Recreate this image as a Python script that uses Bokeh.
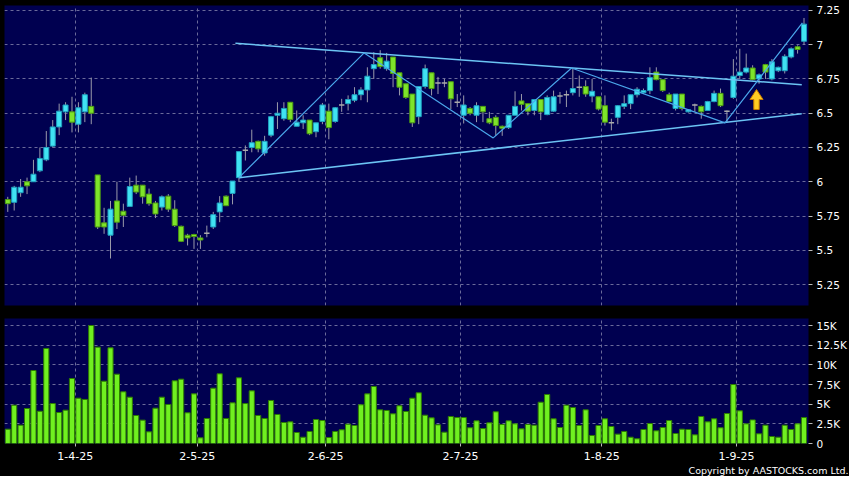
from bokeh.plotting import figure
from bokeh.models import Range1d, FixedTicker, CustomJSTickFormatter, Title
from bokeh.layouts import column
from bokeh.embed import file_html
from bokeh.resources import INLINE

# ---------------- data ----------------
opens = [5.87, 5.85, 5.92, 6.00, 6.00, 6.08, 6.16, 6.26, 6.40, 6.51,
         6.51, 6.42, 6.51, 6.55, 6.05, 5.70, 5.61, 5.86, 5.785, 5.82,
         5.975, 5.975, 5.91, 5.845, 5.815, 5.895, 5.80, 5.675, 5.61, 5.615,
         5.59, 5.625, 5.67, 5.78, 5.895, 5.915, 6.03, 6.23, 6.25, 6.295,
         6.21, 6.34, 6.485, 6.46, 6.58, 6.405, 6.43, 6.45, 6.365, 6.44,
         6.515, 6.44, 6.56, 6.57, 6.595, 6.635, 6.67, 6.825, 6.905, 6.825,
         6.91, 6.795, 6.715, 6.64, 6.475, 6.695, 6.795, 6.72, 6.72, 6.73,
         6.58, 6.485, 6.535, 6.485, 6.55, 6.46, 6.47, 6.405, 6.395, 6.485,
         6.59, 6.57, 6.52, 6.60, 6.49, 6.515, 6.625, 6.635, 6.65, 6.69,
         6.695, 6.625, 6.62, 6.555, 6.43, 6.47, 6.55, 6.57, 6.635, 6.65,
         6.665, 6.80, 6.745, 6.635, 6.535, 6.64, 6.51, 6.56, 6.55, 6.52,
         6.585, 6.645, 6.515, 6.615, 6.775, 6.80, 6.83, 6.75, 6.855, 6.75,
         6.81, 6.81, 6.91, 6.985, 7.025]
highs = [5.89, 5.97, 6.02, 6.03, 6.16, 6.25, 6.37, 6.45, 6.57, 6.58,
         6.62, 6.58, 6.65, 6.76, 6.05, 5.81, 5.86, 6.00, 5.84, 6.03,
         6.045, 5.975, 5.95, 5.86, 5.90, 5.91, 5.865, 5.68, 5.62, 5.62,
         5.61, 5.68, 5.78, 5.895, 5.90, 6.005, 6.22, 6.265, 6.38, 6.30,
         6.335, 6.48, 6.58, 6.58, 6.58, 6.52, 6.485, 6.45, 6.43, 6.575,
         6.57, 6.545, 6.605, 6.63, 6.69, 6.69, 6.835, 6.945, 6.96, 6.94,
         6.91, 6.795, 6.715, 6.64, 6.695, 6.855, 6.795, 6.765, 6.75, 6.73,
         6.64, 6.63, 6.545, 6.58, 6.55, 6.51, 6.485, 6.41, 6.485, 6.66,
         6.64, 6.57, 6.60, 6.60, 6.63, 6.665, 6.655, 6.665, 6.825, 6.775,
         6.74, 6.75, 6.62, 6.63, 6.46, 6.56, 6.63, 6.635, 6.69, 6.68,
         6.835, 6.835, 6.745, 6.65, 6.64, 6.64, 6.53, 6.57, 6.556, 6.59,
         6.665, 6.68, 6.52, 6.895, 6.97, 6.935, 6.85, 6.79, 6.86, 6.895,
         6.84, 6.93, 6.98, 6.995, 7.195]
lows = [5.78, 5.79, 5.89, 5.91, 6.00, 6.07, 6.15, 6.25, 6.34, 6.45,
        6.36, 6.36, 6.435, 6.42, 5.655, 5.62, 5.44, 5.655, 5.67, 5.82,
        5.91, 5.84, 5.825, 5.735, 5.79, 5.78, 5.67, 5.56, 5.535, 5.51,
        5.51, 5.595, 5.655, 5.705, 5.825, 5.835, 6.00, 6.155, 6.215, 6.215,
        6.19, 6.325, 6.385, 6.445, 6.435, 6.405, 6.385, 6.34, 6.325, 6.42,
        6.31, 6.43, 6.51, 6.52, 6.58, 6.595, 6.58, 6.75, 6.825, 6.81,
        6.69, 6.63, 6.605, 6.40, 6.42, 6.68, 6.63, 6.64, 6.69, 6.53,
        6.545, 6.425, 6.485, 6.435, 6.435, 6.42, 6.335, 6.335, 6.385, 6.485,
        6.52, 6.485, 6.485, 6.45, 6.485, 6.51, 6.57, 6.545, 6.63, 6.62,
        6.62, 6.58, 6.52, 6.41, 6.375, 6.42, 6.53, 6.53, 6.615, 6.64,
        6.64, 6.74, 6.655, 6.58, 6.52, 6.52, 6.505, 6.51, 6.46, 6.52,
        6.58, 6.545, 6.435, 6.605, 6.75, 6.79, 6.74, 6.715, 6.75, 6.74,
        6.80, 6.79, 6.90, 6.935, 7.00]
closes = [5.84, 5.96, 5.96, 5.97, 6.055, 6.17, 6.25, 6.40, 6.515, 6.56,
          6.435, 6.54, 6.635, 6.50, 5.67, 5.67, 5.80, 5.705, 5.755, 5.965,
          5.925, 5.89, 5.84, 5.765, 5.89, 5.80, 5.68, 5.565, 5.59, 5.60,
          5.575, 5.625, 5.76, 5.845, 5.825, 6.005, 6.22, 6.23, 6.285, 6.24,
          6.295, 6.475, 6.50, 6.535, 6.455, 6.435, 6.45, 6.35, 6.43, 6.56,
          6.395, 6.54, 6.56, 6.60, 6.635, 6.67, 6.77, 6.855, 6.84, 6.88,
          6.79, 6.69, 6.615, 6.43, 6.695, 6.825, 6.68, 6.72, 6.72, 6.605,
          6.58, 6.56, 6.50, 6.555, 6.51, 6.43, 6.41, 6.39, 6.485, 6.55,
          6.565, 6.515, 6.60, 6.51, 6.615, 6.62, 6.625, 6.635, 6.68, 6.69,
          6.64, 6.66, 6.53, 6.435, 6.43, 6.555, 6.57, 6.635, 6.675, 6.665,
          6.76, 6.745, 6.665, 6.585, 6.64, 6.535, 6.525, 6.56, 6.51, 6.585,
          6.645, 6.555, 6.515, 6.77, 6.80, 6.83, 6.745, 6.78, 6.80, 6.875,
          6.835, 6.915, 6.97, 6.965, 7.15]
volumes_k = [1.82, 4.87, 2.33, 4.45, 9.28, 4.10, 12.08, 5.08, 3.94, 4.24,
             8.26, 5.76, 5.60, 15.0, 12.25, 7.92, 12.16, 8.81, 6.57, 5.89,
             3.56, 2.97, 1.48, 4.49, 5.89, 4.96, 7.97, 8.18, 3.90, 6.31,
             0.72, 3.18, 7.03, 8.86, 3.18, 5.17, 8.35, 5.08, 6.69, 3.56,
             3.18, 5.47, 3.69, 2.67, 2.75, 1.40, 0.80, 1.53, 3.05, 2.92,
             0.76, 1.53, 1.74, 2.46, 2.29, 4.92, 6.31, 7.25, 4.28, 4.20,
             3.77, 4.79, 4.07, 5.76, 6.44, 3.60, 3.26, 2.37, 1.44, 3.43,
             3.30, 3.30, 2.00, 2.88, 1.90, 2.63, 4.03, 2.42, 2.88, 2.50,
             1.86, 2.42, 2.33, 5.25, 6.23, 3.14, 2.03, 4.87, 4.58, 2.29,
             4.28, 1.02, 2.29, 3.14, 2.16, 1.19, 1.53, 0.80, 0.60, 1.78,
             2.54, 1.61, 2.03, 2.92, 1.27, 1.82, 1.78, 1.10, 3.43, 2.75,
             3.14, 2.00, 3.81, 7.50, 4.15, 2.50, 3.00, 1.23, 2.33, 0.89,
             0.80, 2.33, 1.78, 2.50, 3.30]

date_labels = ["1-4-25", "2-5-25", "2-6-25", "2-7-25", "1-8-25", "1-9-25"]
date_label_index = [10.5, 29.5, 49.5, 70.5, 92.5, 113.5]
price_ticks = [5.25, 5.5, 5.75, 6.0, 6.25, 6.5, 6.75, 7.0, 7.25]
volume_ticks = [0, 2.5, 5, 7.5, 10, 12.5, 15]

# trend lines (index, price)
upper_line_idx = [35.45, 123.65]
upper_line_price = [7.01, 6.708]
lower_line_idx = [36.0, 123.65]
lower_line_price = [6.03, 6.496]
zigzag_idx = [36.0, 55.5, 75.6, 87.8, 111.7, 123.75]
zigzag_price = [6.03, 6.94, 6.32, 6.83, 6.43, 7.16]

# breakout arrow
arrow_idx = 116.6
arrow_tip = 6.673
arrow_base = 6.60
arrow_bottom = 6.527

# ---------------- styling ----------------
NAVY = "#000050"
GRID = "#6a6a9a"
FONT = "DejaVu Sans"
UP_FILL, UP_LINE = "#40e2f2", "#1f9fbf"
DN_FILL, DN_LINE = "#7ee42a", "#4c9a12"
WICK = "#9a9aaa"
DOJI = "#aaaaaa"

n = len(opens)
idx = list(range(n))
x_range = Range1d(-0.51, 124.7)

up = [i for i in idx if closes[i] > opens[i]]
dn = [i for i in idx if closes[i] < opens[i]]
dj = [i for i in idx if closes[i] == opens[i]]

def sub(lst, sel):
    return [lst[i] for i in sel]

# ---------------- price panel ----------------
p1 = figure(frame_width=804, frame_height=300, x_range=x_range,
            y_range=Range1d(5.097, 7.286), output_backend="svg",
            toolbar_location=None, x_axis_location=None, y_axis_location="right",
            min_border_left=4, min_border_top=5, min_border_bottom=6,
            min_border_right=0,
            background_fill_color=NAVY, border_fill_color="black")
p1.outline_line_color = None

p1.segment(x0=idx, y0=lows, x1=idx, y1=highs, line_color=WICK, line_width=1)
p1.vbar(x=up, width=0.78, bottom=sub(opens, up), top=sub(closes, up),
        fill_color=UP_FILL, line_color=UP_LINE, line_width=1)
p1.vbar(x=dn, width=0.78, bottom=sub(closes, dn), top=sub(opens, dn),
        fill_color=DN_FILL, line_color=DN_LINE, line_width=1)
p1.segment(x0=[i - 0.42 for i in dj], x1=[i + 0.42 for i in dj],
           y0=sub(closes, dj), y1=sub(closes, dj), line_color=DOJI, line_width=1.5)

p1.line(upper_line_idx, upper_line_price, line_color="#6cc4f4", line_width=1.5)
p1.line(lower_line_idx, lower_line_price, line_color="#6cc4f4", line_width=1.5)
p1.line(zigzag_idx, zigzag_price, line_color="#4aa6ea", line_width=1.2)

hw, sw = 1.02, 0.42
p1.patch([arrow_idx - sw, arrow_idx + sw, arrow_idx + sw, arrow_idx + hw,
          arrow_idx, arrow_idx - hw, arrow_idx - sw],
         [arrow_bottom, arrow_bottom, arrow_base, arrow_base,
          arrow_tip, arrow_base, arrow_base],
         fill_color="#ffcc22", line_color="#c87a00", line_width=1)

p1.yaxis.ticker = FixedTicker(ticks=price_ticks)
p1.yaxis.formatter = CustomJSTickFormatter(code="return String(Math.round(tick*100)/100);")
p1.xgrid.ticker = FixedTicker(ticks=date_label_index)

# ---------------- volume panel ----------------
p2 = figure(frame_width=804, frame_height=125, x_range=x_range,
            y_range=Range1d(0, 15.89), output_backend="svg",
            toolbar_location=None, y_axis_location="right",
            min_border_left=4, min_border_top=7, min_border_bottom=0,
            min_border_right=0,
            background_fill_color=NAVY, border_fill_color="black")
p2.outline_line_color = None
p2.vbar(x=idx, width=0.8, top=volumes_k, bottom=0,
        fill_color="#70f020", line_color="#2e7d00", line_width=1)

p2.yaxis.ticker = FixedTicker(ticks=volume_ticks)
p2.yaxis.formatter = CustomJSTickFormatter(code="return tick == 0 ? '0' : String(tick) + 'K';")
p2.xaxis.ticker = FixedTicker(ticks=date_label_index)
p2.xaxis.formatter = CustomJSTickFormatter(
    args=dict(pos=date_label_index, labels=date_labels),
    code="const i = pos.indexOf(tick); return i >= 0 ? labels[i] : '';")
p2.xgrid.ticker = FixedTicker(ticks=date_label_index)

for p in (p1, p2):
    for g in p.grid:
        g.grid_line_color = GRID
        g.grid_line_dash = "3 3"
        g.grid_line_width = 1
    for ax in p.axis:
        ax.axis_line_color = None
        ax.major_tick_line_color = "#bbbbbb"
        ax.major_tick_in = 0
        ax.major_tick_out = 4
        ax.minor_tick_line_color = None
        ax.major_label_text_color = "white"
        ax.major_label_text_font = FONT
        ax.major_label_text_font_size = "10.5px"
        ax.major_label_standoff = 4

p2.xaxis.major_label_text_font_size = "11px"
p2.xaxis.major_tick_out = 3
p2.xaxis.major_label_standoff = 5

p2.add_layout(Title(text="Copyright by AASTOCKS.com Ltd.", align="right",
                    text_color="white", text_font=FONT, text_font_size="9.5px",
                    text_font_style="normal", standoff=1, offset=-40), "below")

layout = column(p1, p2, spacing=0, background="black")
open("out.html", "w").write(file_html(layout, INLINE))
